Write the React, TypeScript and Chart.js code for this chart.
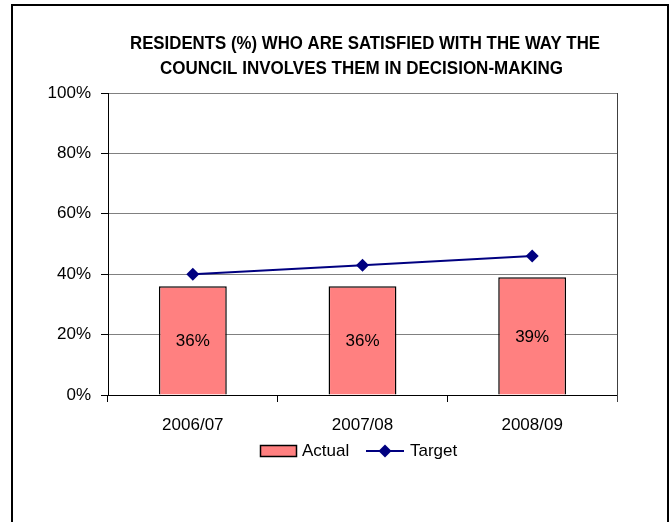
import React, { useEffect, useRef } from "react";
import { Chart, registerables } from "chart.js";

Chart.register(...registerables);

const categories = ["2006/07", "2007/08", "2008/09"];
const actualValues = [36, 36, 39];
const targetValues = [40, 43, 46];
const titleLines = [
  "RESIDENTS (%) WHO ARE SATISFIED WITH THE WAY THE",
  "COUNCIL INVOLVES THEM IN DECISION-MAKING",
];
const yMin = 0;
const yMax = 100;
const yStep = 20;

const W = 669;
const H = 522;
const FONT = "'Liberation Sans', Arial, sans-serif";
const TITLE_FONT = "bold 19px 'Liberation Sans', Arial, sans-serif";

const titlePlugin = {
  id: "customTitle",
  afterDraw(chart: any) {
    const ctx = chart.ctx;
    ctx.save();
    ctx.fillStyle = "#000";
    ctx.font = TITLE_FONT;
    ctx.textAlign = "center";
    ctx.textBaseline = "middle";
    const pos = [
      [365, 44, 470],
      [361.5, 68.5, 403],
    ];
    titleLines.forEach((line, i) => {
      const [cx, cy, targetW] = pos[i];
      const w = ctx.measureText(line).width;
      const sx = Math.min(1, targetW / w);
      ctx.save();
      ctx.translate(cx, cy);
      ctx.scale(sx, 1);
      ctx.fillText(line, 0, 0);
      ctx.restore();
    });
    ctx.restore();
  },
};

const frameAndLabels = {
  id: "frameAndLabels",
  afterDatasetsDraw(chart: any) {
    const ctx = chart.ctx;
    const area = chart.chartArea;
    ctx.save();
    ctx.strokeStyle = "#404040";
    ctx.lineWidth = 1;
    ctx.beginPath();
    ctx.moveTo(Math.round(area.right) + 0.5, area.top);
    ctx.lineTo(Math.round(area.right) + 0.5, area.bottom + 7);
    ctx.stroke();
    const meta = chart.getDatasetMeta(0);
    ctx.fillStyle = "#000";
    ctx.font = "17px " + FONT;
    ctx.textAlign = "center";
    ctx.textBaseline = "middle";
    meta.data.forEach((bar: any, i: number) => {
      const v = chart.data.datasets[0].data[i];
      const cy = (bar.y + bar.base) / 2;
      ctx.fillText(v + "%", bar.x, cy + 1);
    });
    ctx.restore();
  },
};

const legendPlugin = {
  id: "customLegend",
  afterDraw(chart: any) {
    const ctx = chart.ctx;
    const ds = chart.data.datasets;
    const y = 451;
    ctx.save();
    ctx.fillStyle = ds[0].backgroundColor;
    ctx.fillRect(260, 445, 37, 12);
    ctx.strokeStyle = "#000";
    ctx.lineWidth = 1.5;
    ctx.strokeRect(260.5, 445.5, 36, 11);
    ctx.fillStyle = "#000";
    ctx.font = "17px " + FONT;
    ctx.textAlign = "left";
    ctx.textBaseline = "middle";
    ctx.fillText(ds[0].label, 302, y);
    ctx.strokeStyle = ds[1].borderColor;
    ctx.lineWidth = 2;
    ctx.beginPath();
    ctx.moveTo(366, y);
    ctx.lineTo(404, y);
    ctx.stroke();
    ctx.fillStyle = ds[1].pointBackgroundColor;
    ctx.beginPath();
    ctx.moveTo(385, y - 6.5);
    ctx.lineTo(391.5, y);
    ctx.lineTo(385, y + 6.5);
    ctx.lineTo(378.5, y);
    ctx.closePath();
    ctx.fill();
    ctx.fillStyle = "#000";
    ctx.fillText(ds[1].label, 410, y);
    ctx.restore();
  },
};

export default function App() {
  const ref = useRef<HTMLCanvasElement>(null);
  useEffect(() => {
    if (!ref.current) return;
    const chart = new Chart(ref.current, {
      type: "bar",
      data: {
        labels: categories,
        datasets: [
          {
            type: "bar",
            label: "Actual",
            data: actualValues,
            backgroundColor: "#FF8080",
            borderColor: "#000000",
            borderWidth: 1.5,
            barPercentage: 1,
            categoryPercentage: 0.4,
            order: 2,
          },
          {
            type: "line",
            label: "Target",
            data: targetValues,
            borderColor: "#000080",
            borderWidth: 2,
            pointStyle: "rectRot",
            pointRadius: 6.5,
            pointHoverRadius: 6.5,
            pointBackgroundColor: "#000080",
            pointBorderColor: "#000080",
            pointBorderWidth: 0,
            order: 1,
          } as any,
        ],
      },
      options: {
        responsive: false,
        animation: false,
        events: [],
        layout: { padding: { left: 0, right: 52, top: 93, bottom: 0 } },
        plugins: {
          legend: { display: false },
          title: { display: false },
          tooltip: { enabled: false },
        },
        scales: {
          x: {
            offset: true,
            grid: {
              display: true,
              drawOnChartArea: false,
              tickLength: 7,
              tickColor: "#000",
              offset: true,
            },
            border: { display: true, color: "#000", width: 1 },
            ticks: {
              color: "#000",
              font: { family: FONT, size: 17 },
              padding: 13,
              maxRotation: 0,
            },
            afterFit: (scale: any) => {
              scale.height = 127;
            },
          },
          y: {
            min: yMin,
            max: yMax,
            grid: {
              color: "#808080",
              tickLength: 7,
              tickColor: "#000",
            },
            border: { display: true, color: "#000", width: 1 },
            ticks: {
              stepSize: yStep,
              color: "#000",
              font: { family: FONT, size: 17 },
              padding: 10,
              callback: (v: any) => v + "%",
            },
            afterFit: (scale: any) => {
              scale.width = 108;
            },
          },
        },
      },
      plugins: [titlePlugin, frameAndLabels, legendPlugin],
    });
    return () => chart.destroy();
  }, []);

  return (
    <div
      style={{
        position: "fixed",
        left: 0,
        top: 0,
        width: W,
        height: H,
        overflow: "hidden",
        background: "#fff",
      }}
    >
      <div
        style={{
          position: "absolute",
          left: 11,
          top: 4,
          width: 658,
          height: 600,
          boxSizing: "border-box",
          border: "2px solid #000",
        }}
      />
      <canvas
        ref={ref}
        width={W}
        height={H}
        style={{ position: "absolute", left: 0, top: 0, width: W, height: H }}
      />
    </div>
  );
}
